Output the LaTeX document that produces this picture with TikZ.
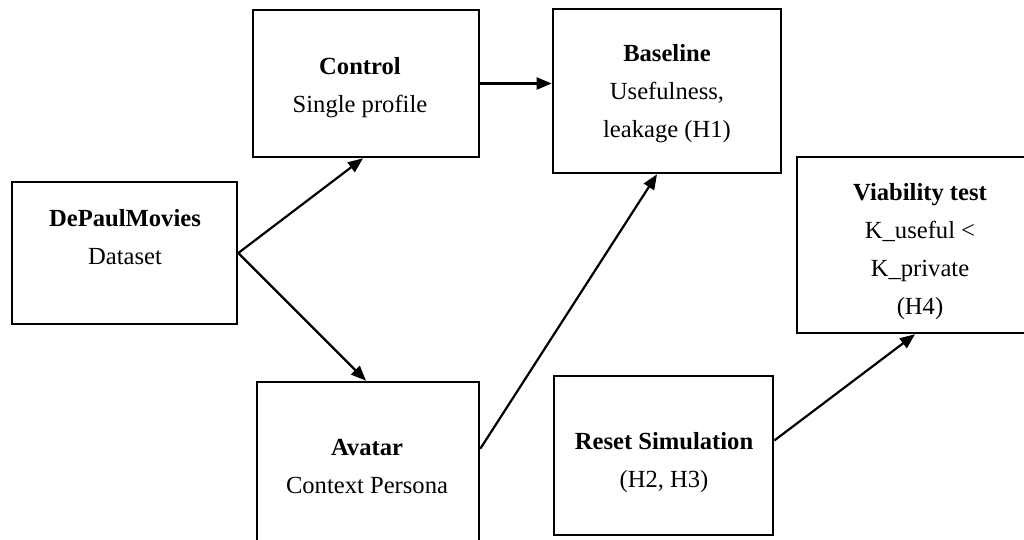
\documentclass[tikz,border=0pt]{standalone}
\usepackage{fontspec}
\setmainfont{Liberation Serif}
\usetikzlibrary{arrows.meta,calc}
\tikzset{
  box/.style={draw=black, line width=2.6pt, rectangle, inner sep=0pt},
  txt/.style={align=center, inner sep=0pt, font=\fontsize{24.6}{38}\selectfont},
  conn/.style={line width=2.2pt, -{Triangle[length=15pt,width=12pt]}}
}
\begin{document}
\begin{tikzpicture}[x=1pt,y=-1pt]
\useasboundingbox (0,0) rectangle (1024,540);
\clip (0,0) rectangle (1024,540);
% boxes
\node[box, minimum width=225pt, minimum height=142pt] (depaul) at (124.5,253) {};
\node[box, minimum width=226pt, minimum height=147pt] (ctrl) at (366,83.5) {};
\node[box, minimum width=228pt, minimum height=164pt] (base) at (667,91) {};
\node[box, minimum width=246pt, minimum height=176pt] (viab) at (920,245) {};
\node[box, minimum width=222pt, minimum height=178pt] (avatar) at (368,471) {};
\node[box, minimum width=219pt, minimum height=159pt] (reset) at (663.5,455.5) {};
% texts (anchor base = baseline of the last line)
\node[txt, anchor=base] (depaulT) at (125,264) {\textbf{DePaulMovies}\\Dataset};
\node[txt, anchor=base] (ctrlT) at (360,113) {\textbf{Control}\\Single profile};
\node[txt, anchor=base] (baseT) at (667,138) {\textbf{Baseline}\\Usefulness,\\leakage (H1)};
\node[txt, anchor=base] (viabT) at (920,314) {\textbf{Viability test}\\K\_useful <\\K\_private\\(H4)};
\node[txt, anchor=base] (avatarT) at (367,493) {\textbf{Avatar}\\Context Persona};
\node[txt, anchor=base] (resetT) at (664,487) {\textbf{Reset Simulation}\\(H2, H3)};
% connectors
\draw[conn] (depaul.east) -- ($(ctrl.south)+(-3,0)$);
\draw[conn] (depaul.east) -- ($(avatar.north)+(-2,0)$);
\draw[conn] (ctrl.east) -- (base.west |- ctrl.east);
\draw[conn] ($(avatar.north east)+(0,68)$) -- ($(base.south)+(-10,0)$);
\draw[conn] ($(reset.east)+(0,-15)$) -- ($(viab.south)+(-5,0)$);
\end{tikzpicture}
\end{document}
